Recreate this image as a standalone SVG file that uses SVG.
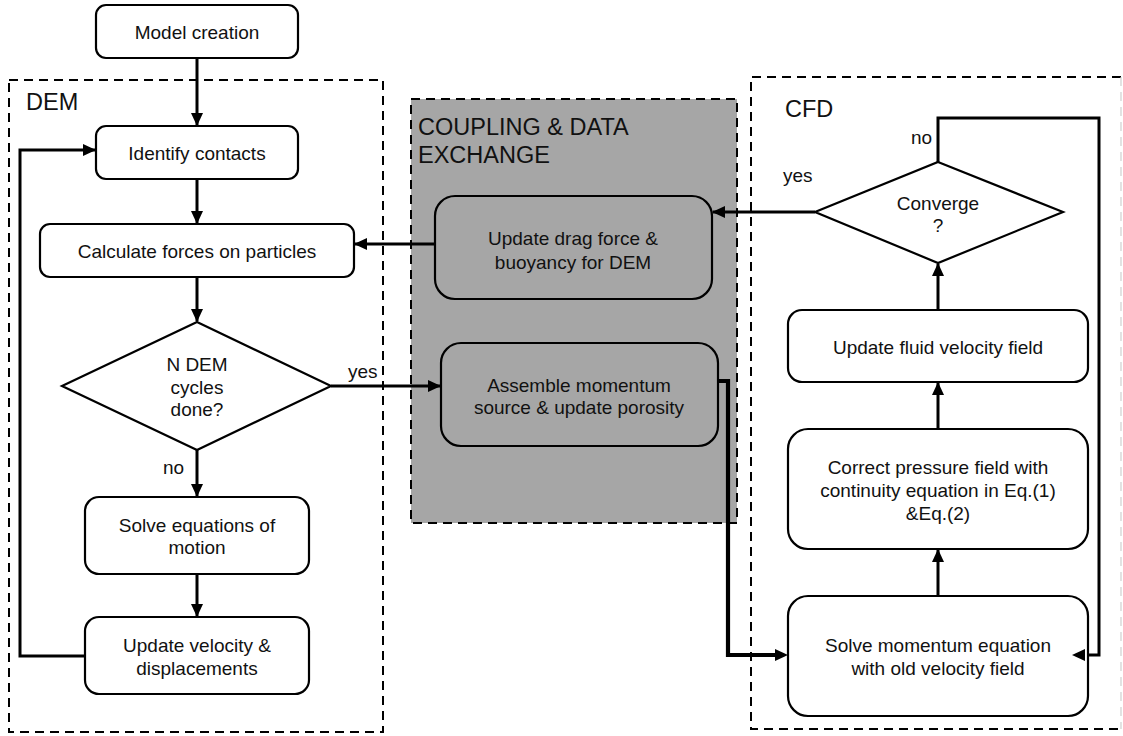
<svg xmlns="http://www.w3.org/2000/svg" width="1123" height="736" viewBox="0 0 1123 736">
  <defs>
    <marker id="arrow" viewBox="0 0 13 12" refX="12" refY="6" markerWidth="13" markerHeight="12" markerUnits="userSpaceOnUse" orient="auto">
      <path d="M0,0 L13,6 L0,12 Z" fill="#000"/>
    </marker>
    <style>
      .frame { fill: none; stroke: #000; stroke-width: 2; stroke-dasharray: 9 6; }
      .box { fill: #fff; stroke: #000; stroke-width: 2.2; }
      .gbox { fill: #a6a6a6; stroke: #000; stroke-width: 2.2; }
      .txt { font-family: "Liberation Sans", Arial, sans-serif; font-size: 19px; fill: #111; text-anchor: middle; dominant-baseline: central; }
      .lbl { font-family: "Liberation Sans", Arial, sans-serif; font-size: 19px; fill: #111; dominant-baseline: central; }
      .title { font-family: "Liberation Sans", Arial, sans-serif; font-size: 23.5px; fill: #111; dominant-baseline: central; }
      .conn { fill: none; stroke: #000; stroke-width: 3; }
      .thick { fill: none; stroke: #000; stroke-width: 4.2; }
    </style>
  </defs>

  <!-- Section frames -->
  <g id="frame-coupling">
    <rect x="411" y="99" width="326" height="424" fill="#a6a6a6" stroke="#000" stroke-width="2" stroke-dasharray="9 6"/>
    <text class="title" x="418" y="127">COUPLING &amp; DATA</text>
    <text class="title" x="418" y="155">EXCHANGE</text>
  </g>
  <g id="frame-dem">
    <rect class="frame" x="9" y="80" width="374" height="652"/>
    <text class="title" x="26" y="102">DEM</text>
  </g>
  <g id="frame-cfd">
    <path class="frame" d="M1121,77 L751,77 L751,729 L1121,729"/>
    <line x1="1121" y1="77" x2="1121" y2="729" stroke="#d0d0d0" stroke-width="1.2" stroke-dasharray="9 6"/>
    <text class="title" x="785" y="109">CFD</text>
  </g>

  <!-- Connectors -->
  <g id="connectors">
    <line class="conn" x1="197" y1="58" x2="197" y2="125" marker-end="url(#arrow)"/>
    <line class="conn" x1="197" y1="179" x2="197" y2="223" marker-end="url(#arrow)"/>
    <line class="conn" x1="197" y1="277" x2="197" y2="321" marker-end="url(#arrow)"/>
    <line class="conn" x1="197" y1="450" x2="197" y2="496" marker-end="url(#arrow)"/>
    <line class="conn" x1="197" y1="574" x2="197" y2="616" marker-end="url(#arrow)"/>
    <polyline class="conn" points="85,656 20,656 20,150 95,150" marker-end="url(#arrow)"/>
    <line class="conn" x1="331" y1="386" x2="440" y2="386" marker-end="url(#arrow)"/>
    <line class="conn" x1="435" y1="244" x2="355" y2="244" marker-end="url(#arrow)"/>
    <line class="conn" x1="815" y1="212" x2="713" y2="212" marker-end="url(#arrow)"/>
    <polyline class="thick" points="718,381 728,381 728,655 776,655"/>
    <path d="M775,649 L788,655 L775,661 Z" fill="#000"/>
    <line class="conn" x1="938" y1="310" x2="938" y2="264" marker-end="url(#arrow)"/>
    <line class="conn" x1="938" y1="429" x2="938" y2="383" marker-end="url(#arrow)"/>
    <line class="conn" x1="938" y1="596" x2="938" y2="550" marker-end="url(#arrow)"/>
    <polyline class="conn" points="938,162 938,118 1099,118 1099,655 1072,655" marker-end="url(#arrow)"/>
  </g>

  <!-- Edge labels -->
  <g id="labels">
    <text class="lbl" x="348" y="371">yes</text>
    <text class="lbl" x="163" y="467">no</text>
    <text class="lbl" x="783" y="175">yes</text>
    <text class="lbl" x="911" y="137">no</text>
  </g>

  <!-- DEM nodes -->
  <g id="model-creation">
    <rect class="box" x="96" y="5" width="202" height="53" rx="10"/>
    <text class="txt" x="197" y="32">Model creation</text>
  </g>
  <g id="identify-contacts">
    <rect class="box" x="96" y="126" width="202" height="53" rx="10"/>
    <text class="txt" x="197" y="153">Identify contacts</text>
  </g>
  <g id="calculate-forces">
    <rect class="box" x="40" y="224" width="314" height="53" rx="10"/>
    <text class="txt" x="197" y="251">Calculate forces on particles</text>
  </g>
  <g id="dem-cycles">
    <polygon class="box" points="197,322 331,386 197,450 62,386"/>
    <text class="txt" x="197" y="364">N DEM</text>
    <text class="txt" x="197" y="387">cycles</text>
    <text class="txt" x="197" y="409">done?</text>
  </g>
  <g id="solve-motion">
    <rect class="box" x="85" y="497" width="224" height="77" rx="14"/>
    <text class="txt" x="197" y="525">Solve equations of</text>
    <text class="txt" x="197" y="547">motion</text>
  </g>
  <g id="update-velocity">
    <rect class="box" x="85" y="617" width="224" height="77" rx="14"/>
    <text class="txt" x="197" y="645">Update velocity &amp;</text>
    <text class="txt" x="197" y="668">displacements</text>
  </g>

  <!-- Coupling nodes -->
  <g id="update-drag">
    <rect class="gbox" x="435" y="196" width="277" height="103" rx="20"/>
    <text class="txt" x="573" y="238">Update drag force &amp;</text>
    <text class="txt" x="573" y="262">buoyancy for DEM</text>
  </g>
  <g id="assemble-source">
    <rect class="gbox" x="441" y="343" width="277" height="103" rx="20"/>
    <text class="txt" x="579" y="385">Assemble momentum</text>
    <text class="txt" x="579" y="407">source &amp; update porosity</text>
  </g>

  <!-- CFD nodes -->
  <g id="converge">
    <polygon class="box" points="938,162 1063,212 938,263 815,212"/>
    <text class="txt" x="938" y="203">Converge</text>
    <text class="txt" x="938" y="225">?</text>
  </g>
  <g id="update-fluid">
    <rect class="box" x="788" y="310" width="300" height="72" rx="14"/>
    <text class="txt" x="938" y="347">Update fluid velocity field</text>
  </g>
  <g id="correct-pressure">
    <rect class="box" x="788" y="429" width="300" height="120" rx="20"/>
    <text class="txt" x="938" y="467">Correct pressure field with</text>
    <text class="txt" x="938" y="490">continuity equation in Eq.(1)</text>
    <text class="txt" x="938" y="513">&amp;Eq.(2)</text>
  </g>
  <g id="solve-momentum">
    <rect class="box" x="788" y="596" width="300" height="120" rx="20"/>
    <text class="txt" x="938" y="645">Solve momentum equation</text>
    <text class="txt" x="938" y="668">with old velocity field</text>
  </g>
  <!-- loop arrow tip drawn over the box edge -->
  <path d="M1085,649 L1072,655 L1085,661 Z" fill="#000"/>
</svg>
